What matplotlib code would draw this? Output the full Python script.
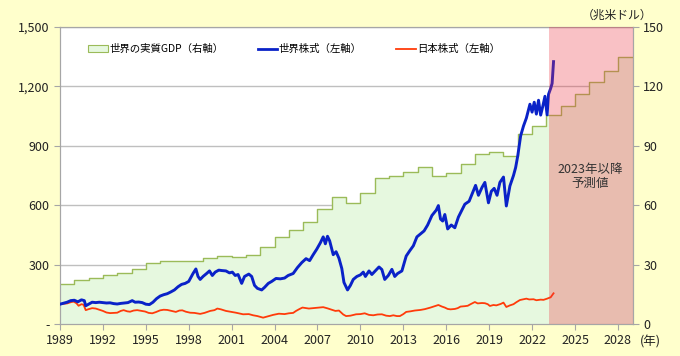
import numpy as np
import matplotlib
matplotlib.use("Agg")
import matplotlib.pyplot as plt
from matplotlib.patches import Patch
from matplotlib.lines import Line2D
from matplotlib.ticker import FuncFormatter

plt.rcParams['font.family'] = ['Noto Sans CJK JP', 'DejaVu Sans']

# World real GDP (trillion USD, right axis), yearly steps; 2023- are forecasts
gdp_year = list(range(1989, 2029))
gdp_val = [20.0, 22.4, 23.4, 24.9, 25.8, 27.8, 31.0, 31.8, 32.0, 32.0,
           33.1, 34.2, 33.9, 34.8, 39.0, 43.8, 47.6, 51.5, 58.3, 63.9,
           61.0, 66.4, 73.6, 74.9, 76.9, 79.1, 74.7, 76.1, 80.7, 85.7,
           87.0, 84.8, 95.8, 100.0, 105.3, 110.3, 116.2, 122.1, 128.0, 134.7]

# World equities (left axis, 1989 = 100)
world_t = [1989.0, 1989.25, 1989.5, 1989.75, 1990.0, 1990.25, 1990.5, 1990.7, 1990.8, 1991.0,
           1991.25, 1991.5, 1991.75, 1992.0, 1992.25, 1992.5, 1992.75, 1993.0, 1993.25, 1993.5,
           1993.75, 1994.05, 1994.25, 1994.5, 1994.75, 1995.0, 1995.25, 1995.5, 1995.75, 1996.0,
           1996.25, 1996.5, 1996.75, 1997.0, 1997.25, 1997.5, 1997.75, 1998.0, 1998.3, 1998.5,
           1998.65, 1998.8, 1999.0, 1999.25, 1999.45, 1999.65, 1999.85, 2000.1, 2000.3, 2000.6,
           2000.85, 2001.05, 2001.25, 2001.45, 2001.7, 2001.9, 2002.2, 2002.4, 2002.6, 2002.8,
           2003.1, 2003.3, 2003.56, 2003.8, 2004.1, 2004.4, 2004.7, 2004.95, 2005.3, 2005.6,
           2005.9, 2006.2, 2006.45, 2006.7, 2006.95, 2007.2, 2007.4, 2007.55, 2007.7, 2007.85,
           2008.1, 2008.3, 2008.5, 2008.7, 2008.85, 2009.1, 2009.3, 2009.5, 2009.75, 2010.0,
           2010.2, 2010.35, 2010.6, 2010.8, 2011.0, 2011.3, 2011.5, 2011.7, 2011.95, 2012.2,
           2012.4, 2012.6, 2012.9, 2013.2, 2013.45, 2013.7, 2013.95, 2014.2, 2014.45, 2014.7,
           2015.0, 2015.3, 2015.45, 2015.6, 2015.75, 2015.9, 2016.1, 2016.35, 2016.6, 2016.85,
           2017.0, 2017.3, 2017.6, 2017.85, 2018.05, 2018.25, 2018.5, 2018.7, 2018.95, 2019.15,
           2019.35, 2019.55, 2019.75, 2020.0, 2020.2, 2020.45, 2020.7, 2020.85, 2021.0, 2021.2,
           2021.4, 2021.6, 2021.85, 2022.0, 2022.15, 2022.3, 2022.45, 2022.6, 2022.75, 2022.9,
           2023.05, 2023.15, 2023.3, 2023.4, 2023.5]
world_v = [100, 105, 110, 118, 120, 112, 122, 118, 92, 100,
           110, 108, 110, 108, 106, 107, 103, 101, 104, 106,
           108, 118, 110, 111, 108, 100, 98, 110, 128, 141,
           148, 153, 162, 172, 188, 200, 205, 215, 255, 278,
           240, 225, 240, 255, 268, 245, 262, 272, 270, 268,
           258, 262, 245, 250, 205, 240, 252, 240, 195, 180,
           172, 185, 205, 215, 230, 228, 232, 245, 255, 285,
           310, 330, 320, 350, 378, 410, 440, 405, 443, 420,
           350, 365, 332, 280, 210, 172, 195, 225, 240, 248,
           262, 240, 268, 250, 265, 288, 275, 225, 245, 276,
           240, 255, 268, 343, 370, 395, 440, 455, 470, 500,
           548, 575, 598, 530, 520, 553, 480, 500, 486, 540,
           562, 605, 620, 665, 700, 650, 690, 715, 612, 670,
           685, 650, 715, 742, 596, 697, 750, 790, 850, 950,
           1000, 1040, 1110, 1070, 1120, 1060, 1130, 1055, 1100, 1150,
           1056, 1160, 1190, 1215, 1325]

# Japanese equities (left axis, 1989 = 100)
jp_t = [1989.0, 1989.25, 1989.5, 1989.75, 1989.95, 1990.15, 1990.3, 1990.5, 1990.65, 1990.8,
        1991.0, 1991.25, 1991.5, 1991.75, 1992.0, 1992.25, 1992.5, 1992.75, 1993.0, 1993.25,
        1993.45, 1993.7, 1993.9, 1994.15, 1994.4, 1994.7, 1994.95, 1995.2, 1995.45, 1995.7,
        1996.0, 1996.25, 1996.5, 1996.8, 1997.1, 1997.35, 1997.55, 1997.8, 1998.1, 1998.4,
        1998.8, 1999.1, 1999.5, 1999.8, 2000.0, 2000.25, 2000.6, 2000.9, 2001.3, 2001.6,
        2001.8, 2002.2, 2002.5, 2002.8, 2003.2, 2003.4, 2003.6, 2003.9, 2004.3, 2004.7,
        2005.0, 2005.3, 2005.5, 2005.75, 2005.95, 2006.2, 2006.4, 2006.7, 2007.1, 2007.4,
        2007.7, 2008.0, 2008.25, 2008.5, 2008.8, 2009.0, 2009.3, 2009.7, 2010.0, 2010.3,
        2010.6, 2010.9, 2011.2, 2011.5, 2011.8, 2012.06, 2012.3, 2012.55, 2012.76, 2013.0,
        2013.2, 2013.5, 2013.8, 2014.2, 2014.5, 2014.9, 2015.2, 2015.45, 2015.7, 2015.9,
        2016.1, 2016.3, 2016.6, 2016.8, 2017.0, 2017.3, 2017.5, 2017.7, 2018.0, 2018.2,
        2018.5, 2018.7, 2018.9, 2019.05, 2019.3, 2019.5, 2019.8, 2020.0, 2020.2, 2020.45,
        2020.7, 2020.9, 2021.15, 2021.4, 2021.6, 2021.8, 2022.1, 2022.3, 2022.6, 2022.8,
        2023.05, 2023.3, 2023.5]
jp_v = [100, 102, 104, 110, 113, 105, 92, 100, 97, 70,
        75, 80, 78, 72, 66, 58, 55, 56, 57, 66,
        70, 64, 62, 68, 70, 66, 63, 56, 54, 60,
        69, 72, 71, 66, 61, 68, 69, 62, 57, 56,
        51, 56, 66, 70, 78, 74, 66, 62, 57, 52,
        49, 50, 44, 40, 32, 36, 40, 46, 52, 50,
        54, 56, 66, 76, 83, 80, 78, 80, 83, 85,
        79, 72, 66, 68, 48, 40, 42, 49, 50, 54,
        46, 44, 48, 49, 42, 40, 44, 40, 40, 50,
        61, 64, 68, 71, 75, 83, 90, 96, 88, 83,
        76, 74, 76, 80, 88, 90, 92, 100, 111, 104,
        106, 105, 100, 91, 96, 94, 101, 108, 86, 94,
        100, 110, 121, 125, 128, 124, 125, 120, 123, 122,
        128, 135, 155]

forecast_start = 2023.15
xmax = 2029.05
year_ticks = list(range(1989, 2029, 3))
left_ticks = [0, 300, 600, 900, 1200, 1500]
right_ticks = [0, 30, 60, 90, 120, 150]

fig = plt.figure(figsize=(6.8, 3.56), dpi=100, facecolor='#FFFFCC')
ax2 = fig.add_axes([0.0882, 0.0899, 0.8426, 0.8343])  # GDP, right axis
ax1 = ax2.twinx()                                      # equities, left axis
ax1.set_zorder(ax2.get_zorder() + 1)
ax1.patch.set_visible(False)
ax2.set_facecolor('white')

ax2.yaxis.tick_right()
ax2.yaxis.set_label_position('right')
ax1.yaxis.tick_left()
ax1.yaxis.set_label_position('left')

# GDP step line + fill
gx = gdp_year + [xmax]
gy = gdp_val + [gdp_val[-1]]
ax2.fill_between(gx, 0, gy, step='post', color='#E6F8DF', zorder=2, lw=0)
ax2.step(gx, gy, where='post', color='#9BBB59', lw=1.0, zorder=3)
ax2.set_ylim(0, 150)
ax2.set_yticks(right_ticks)
ax2.grid(axis='y', color='#BFBFBF', lw=1.0, zorder=1)
ax2.set_axisbelow(True)

ax1.plot(jp_t, jp_v, color='#FF3B0A', lw=1.3, zorder=3)
ax1.plot(world_t, world_v, color='#0A22C8', lw=2.1, zorder=4)
ax1.set_ylim(0, 1500)
ax1.set_yticks(left_ticks)
ax1.yaxis.set_major_formatter(FuncFormatter(lambda v, p: '-' if v == 0 else f'{int(v):,}'))

# forecast shading on top
ax1.axvspan(forecast_start, xmax, color='#EE3340', alpha=0.3, lw=0, zorder=6)
ax1.text(2026.05, 745, '2023年以降\n予測値', ha='center', va='center',
         fontsize=9, color='#333333', linespacing=1.1, zorder=7)

for a in (ax1, ax2):
    a.set_xlim(1989, xmax)
    a.set_xticks(year_ticks)
    for s in a.spines.values():
        s.set_color('#A6A6A6')
    a.tick_params(colors='#A6A6A6', labelcolor='#222222', labelsize=9, length=4, width=0.8)

fig.text(0.907, 0.958, '（兆米ドル）', ha='center', va='center', fontsize=8.5, color='#222222')
fig.text(0.956, 0.040, '(年)', ha='center', va='center', fontsize=9, color='#222222')

handles = [Patch(facecolor='#E6F8DF', edgecolor='#9BBB59', lw=0.8),
           Line2D([], [], color='#0A22C8', lw=2.0),
           Line2D([], [], color='#FF3B0A', lw=1.3)]
labels = ['世界の実質GDP（右軸）', '世界株式（左軸）', '日本株式（左軸）']
leg = ax1.legend(handles, labels, loc='center left', bbox_to_anchor=(0.129, 0.862),
                 bbox_transform=fig.transFigure, ncol=3, frameon=False, fontsize=7.5,
                 handlelength=1.9, handletextpad=0.15, columnspacing=3.3,
                 borderpad=0, borderaxespad=0)
leg.set_zorder(10)

fig.savefig('out.png', dpi=100, facecolor=fig.get_facecolor())
